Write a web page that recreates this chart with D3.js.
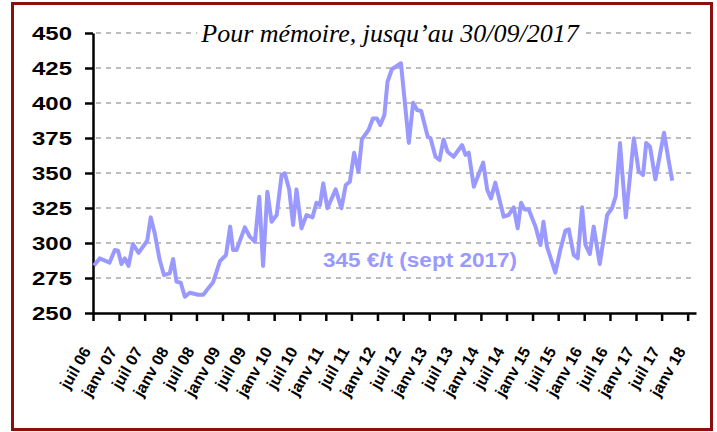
<!DOCTYPE html>
<html>
<head>
<meta charset="utf-8">
<script src="https://cdn.jsdelivr.net/npm/d3@7"></script>
<style>
  body { margin: 0; background: #fff; }
  svg { display: block; }
</style>
</head>
<body>
<div id="chart"></div>
<script>
// prix (€/t), relevés
var dates = [
  "2006-07-08","2006-08-17","2006-10-26","2006-12-02","2006-12-25","2007-01-18","2007-02-11","2007-03-09",
  "2007-04-09","2007-05-19","2007-07-19","2007-08-13","2007-09-10","2007-10-15","2007-11-15","2007-12-25",
  "2008-01-18","2008-02-11","2008-03-12","2008-04-10","2008-05-15","2008-07-13","2008-08-18","2008-09-22",
  "2008-10-27","2008-12-14","2009-01-26","2009-02-24","2009-03-17","2009-04-10","2009-06-08","2009-07-13",
  "2009-08-18","2009-09-18","2009-10-15","2009-11-14","2009-12-14","2010-01-19","2010-02-23","2010-03-17",
  "2010-04-17","2010-05-15","2010-06-08","2010-07-13","2010-08-18","2010-09-29","2010-10-27","2010-11-21",
  "2010-12-14","2011-01-12","2011-03-12","2011-04-21","2011-05-22","2011-06-20","2011-07-20","2011-08-20",
  "2011-09-13","2011-10-30","2011-11-30","2011-12-28","2012-01-21","2012-02-19","2012-03-12","2012-04-12",
  "2012-06-15","2012-08-10","2012-09-09","2012-10-07","2012-11-05","2012-12-21","2013-01-10","2013-02-14",
  "2013-03-15","2013-04-12","2013-05-10","2013-06-22","2013-08-21","2013-09-14","2013-10-07","2013-11-12",
  "2014-01-17","2014-02-15","2014-03-13","2014-04-13","2014-06-11","2014-07-16","2014-08-21","2014-09-18",
  "2014-10-12","2014-11-05","2014-12-05","2015-01-22","2015-02-26","2015-03-19","2015-04-13","2015-05-06",
  "2015-06-11","2015-07-16","2015-08-21","2015-09-14","2015-10-19","2015-11-16","2015-12-17","2016-01-10",
  "2016-02-10","2016-03-08","2016-04-20","2016-05-23","2016-06-11","2016-07-16","2016-08-11","2016-09-10",
  "2016-10-21","2016-12-17","2017-01-20","2017-02-20","2017-03-14","2017-04-10","2017-05-18","2017-07-18",
  "2017-08-21","2017-09-14"
];
var prices = [
  284, 289, 286, 295, 294.5, 285, 289, 283.6,
  299.3, 293, 301.6, 318.3, 307, 288, 277, 278.3,
  288.6, 272.4, 271.6, 261.6, 264.5, 263, 263, 267.6,
  272, 287, 291.4, 311.7, 295, 295, 311.2, 304.5,
  300.9, 333, 283.6, 336.6, 315.2, 320, 348.6, 349.8,
  338.3, 312.9, 338.3, 310.5, 320, 318.3, 328.8, 327.1,
  342.6, 324.8, 338.3, 324.8, 341.4, 343.8, 364.5, 350.9,
  374, 380.7, 389, 389, 384.3, 391.4, 415.2, 424.1,
  428.4, 371.5, 400.2, 395, 394.3, 376, 374.8, 361.6,
  359.3, 374, 365.2, 361.6, 370, 362.9, 364.5, 340.2,
  357.4, 337.9, 331.9, 343.1, 318.8, 320, 325.5, 310.5,
  328.8, 324, 324, 311.7, 298.6, 315.2, 297.4, 290.2,
  278.8, 295, 308.8, 309.8, 291.4, 289.1, 325.5, 298.6,
  292.1, 311.7, 285, 306.9, 320, 325, 333.5, 371.4,
  318.3, 374.8, 351.2, 348.6, 371.4, 368.8, 345.5, 378.8,
  358, 344.5
];
var yTicks = [250, 275, 300, 325, 350, 375, 400, 425, 450];
var xTickLabels = [
  "juil 06","janv 07","juil 07","janv 08","juil 08","janv 09","juil 09","janv 10",
  "juil 10","janv 11","juil 11","janv 12","juil 12","janv 13","juil 13","janv 14",
  "juil 14","janv 15","juil 15","janv 16","juil 16","janv 17","juil 17","janv 18"
];
var title = "Pour mémoire, jusqu\u2019au 30/09/2017";
var note = "345 €/t (sept 2017)";

var width = 717, height = 432;
var parse = d3.timeParse("%Y-%m-%d");
var data = dates.map(function(d, i) { return { date: parse(d), value: prices[i] }; });

var svg = d3.select("#chart").append("svg")
    .attr("width", width)
    .attr("height", height);

// cadre
svg.append("rect")
    .attr("x", 12.5).attr("y", 3.5)
    .attr("width", 699).attr("height", 426)
    .attr("fill", "#fff")
    .attr("stroke", "#8b0f0f")
    .attr("stroke-width", 3);

var x = d3.scaleTime()
    .domain([new Date(2006, 6, 1), new Date(2018, 2, 1)])
    .range([93, 696]);

var y = d3.scaleLinear()
    .domain([250, 450])
    .range([313, 33]);

// grille
svg.append("g")
    .selectAll("line")
    .data(yTicks.slice(1))
    .enter().append("line")
        .attr("x1", 96)
        .attr("x2", 696)
        .attr("y1", function(d) { return y(d); })
        .attr("y2", function(d) { return y(d); })
        .attr("stroke", "#bdbdbd")
        .attr("stroke-width", 2)
        .attr("stroke-dasharray", "5,5");

// titre avec fond blanc
var titleText = svg.append("text")
    .attr("x", 390)
    .attr("y", 42)
    .attr("text-anchor", "middle")
    .attr("font-family", "'Liberation Serif', 'Times New Roman', serif")
    .attr("font-style", "italic")
    .attr("font-size", 26)
    .attr("fill", "#000")
    .text(title);
var tb = titleText.node().getBBox();
svg.insert("rect", "text")
    .attr("x", tb.x - 3).attr("y", tb.y)
    .attr("width", tb.width + 6).attr("height", tb.height)
    .attr("fill", "#fff");

// axe Y
var yAxis = svg.append("g")
    .attr("transform", "translate(93,0)")
    .call(d3.axisLeft(y).tickValues(yTicks).tickSize(8).tickPadding(13).tickSizeOuter(0));
yAxis.select(".domain").attr("stroke-width", 2.5);
yAxis.selectAll(".tick line").attr("stroke-width", 2.5);
yAxis.selectAll(".tick text")
    .attr("font-family", "'Liberation Sans', Arial, sans-serif")
    .attr("font-weight", "bold")
    .attr("font-size", 19)
    .attr("fill", "#000")
    .attr("textLength", 40)
    .attr("lengthAdjust", "spacingAndGlyphs");

// axe X
var xTicks = d3.timeMonth.range(new Date(2006, 6, 1), new Date(2018, 1, 1), 6);
var xAxis = svg.append("g")
    .attr("transform", "translate(0,313)")
    .call(d3.axisBottom(x).tickValues(xTicks).tickSize(8).tickSizeOuter(0)
        .tickFormat(function(d, i) { return xTickLabels[i]; }));
xAxis.select(".domain").attr("stroke-width", 2.5);
xAxis.selectAll(".tick line").attr("stroke-width", 2.5);
xAxis.selectAll(".tick text")
    .attr("font-family", "'Liberation Sans', Arial, sans-serif")
    .attr("font-weight", "bold")
    .attr("font-size", 16)
    .attr("fill", "#000")
    .attr("text-anchor", "end")
    .attr("dy", 0)
    .attr("y", 0)
    .attr("transform", "translate(-2,38) rotate(-60)");

// courbe
var line = d3.line()
    .x(function(d) { return x(d.date); })
    .y(function(d) { return y(d.value); });

svg.append("path")
    .datum(data)
    .attr("fill", "none")
    .attr("stroke", "#9999ff")
    .attr("stroke-width", 4)
    .attr("stroke-linejoin", "round")
    .attr("d", line);

svg.append("text")
    .attr("x", 323)
    .attr("y", 267)
    .attr("font-family", "'Liberation Sans', Arial, sans-serif")
    .attr("font-weight", "bold")
    .attr("font-size", 20)
    .attr("fill", "#9999ff")
    .attr("textLength", 194)
    .attr("lengthAdjust", "spacingAndGlyphs")
    .text(note);
</script>
</body>
</html>
